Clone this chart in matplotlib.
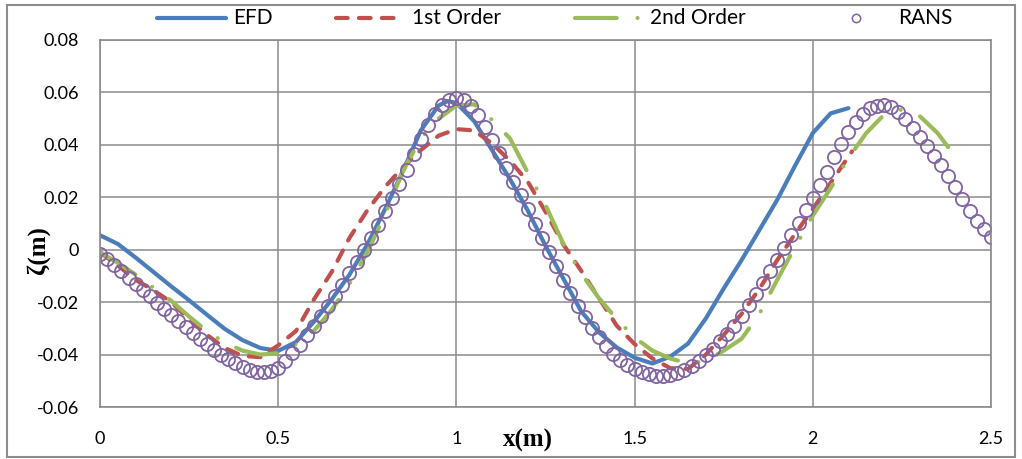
import matplotlib
matplotlib.use("Agg")
import matplotlib.pyplot as plt
from matplotlib.patches import Rectangle
from matplotlib.lines import Line2D

# EFD (measured)
efd_x = [0.00, 0.05, 0.10, 0.15, 0.20, 0.25, 0.30, 0.35, 0.40, 0.45, 0.50, 0.55, 0.60,
         0.65, 0.70, 0.75, 0.80, 0.85, 0.90, 0.95, 0.975, 1.00, 1.05, 1.10, 1.15, 1.20,
         1.25, 1.30, 1.35, 1.40, 1.45, 1.50, 1.55, 1.60, 1.65, 1.70, 1.75, 1.80, 1.85,
         1.90, 1.95, 2.00, 2.05, 2.10]
efd_y = [0.0055, 0.0022, -0.0030, -0.0085, -0.0140, -0.0193, -0.0248, -0.0302, -0.0345,
         -0.0375, -0.0386, -0.0352, -0.0275, -0.0190, -0.0095, 0.0020, 0.0155, 0.0300,
         0.0455, 0.0550, 0.0567, 0.0560, 0.0490, 0.0380, 0.0270, 0.0150, 0.0015, -0.0110,
         -0.0235, -0.0315, -0.0373, -0.0412, -0.0434, -0.0408, -0.0358, -0.0262, -0.0148,
         -0.0040, 0.0075, 0.0190, 0.0320, 0.0445, 0.0520, 0.0540]

# 1st order theory
first_x = [0.00, 0.05, 0.10, 0.15, 0.20, 0.25, 0.30, 0.35, 0.40, 0.45, 0.50, 0.55, 0.60,
           0.65, 0.70, 0.75, 0.80, 0.85, 0.90, 0.95, 1.00, 1.05, 1.10, 1.15, 1.20, 1.25,
           1.30, 1.35, 1.40, 1.45, 1.50, 1.55, 1.60, 1.65, 1.70, 1.75, 1.80, 1.85, 1.90,
           1.95, 2.00, 2.05, 2.11]
first_y = [-0.0010, -0.0060, -0.0115, -0.0155, -0.0200, -0.0265, -0.0325, -0.0375, -0.0405,
           -0.0410, -0.0365, -0.0310, -0.0190, -0.0085, 0.0045, 0.0150, 0.0240, 0.0315,
           0.0380, 0.0435, 0.0460, 0.0455, 0.0405, 0.0340, 0.0260, 0.0145, 0.0020, -0.0080,
           -0.0185, -0.0290, -0.0360, -0.0415, -0.0452, -0.0455, -0.0400, -0.0325, -0.0245,
           -0.0150, -0.0040, 0.0060, 0.0155, 0.0255, 0.0375]

# 2nd order theory
second_x = [0.00, 0.05, 0.10, 0.15, 0.20, 0.25, 0.30, 0.35, 0.40, 0.45, 0.50, 0.55, 0.60,
            0.65, 0.70, 0.75, 0.80, 0.85, 0.90, 0.95, 1.00, 1.05, 1.10, 1.15, 1.20, 1.25,
            1.30, 1.35, 1.40, 1.45, 1.50, 1.55, 1.60, 1.65, 1.70, 1.75, 1.80, 1.85, 1.90,
            1.95, 2.00, 2.05, 2.10, 2.15, 2.20, 2.25, 2.30, 2.35, 2.40]
second_y = [-0.0010, -0.0050, -0.0095, -0.0145, -0.0195, -0.0255, -0.0310, -0.0355, -0.0385,
            -0.0400, -0.0395, -0.0360, -0.0310, -0.0230, -0.0130, -0.0010, 0.0135, 0.0300,
            0.0425, 0.0500, 0.0550, 0.0555, 0.0495, 0.0425, 0.0295, 0.0170, 0.0023, -0.0090,
            -0.0185, -0.0265, -0.0335, -0.0385, -0.0415, -0.0433, -0.0425, -0.0385, -0.0340,
            -0.0245, -0.0115, 0.0010, 0.0130, 0.0235, 0.0350, 0.0445, 0.0515, 0.0535, 0.0510,
            0.0445, 0.0355]

# RANS
rans_x = [0.00, 0.02, 0.04, 0.06, 0.08, 0.10, 0.12, 0.14, 0.16, 0.18, 0.20, 0.22, 0.24,
          0.26, 0.28, 0.30, 0.32, 0.34, 0.36, 0.38, 0.40, 0.42, 0.44, 0.46, 0.48, 0.50,
          0.52, 0.54, 0.56, 0.58, 0.60, 0.62, 0.64, 0.66, 0.68, 0.70, 0.72, 0.74, 0.76,
          0.78, 0.80, 0.82, 0.84, 0.86, 0.88, 0.90, 0.92, 0.94, 0.96, 0.98, 1.00, 1.02,
          1.04, 1.06, 1.08, 1.10, 1.12, 1.14, 1.16, 1.18, 1.20, 1.22, 1.24, 1.26, 1.28,
          1.30, 1.32, 1.34, 1.36, 1.38, 1.40, 1.42, 1.44, 1.46, 1.48, 1.50, 1.52, 1.54,
          1.56, 1.58, 1.60, 1.62, 1.64, 1.66, 1.68, 1.70, 1.72, 1.74, 1.76, 1.78, 1.80,
          1.82, 1.84, 1.86, 1.88, 1.90, 1.92, 1.94, 1.96, 1.98, 2.00, 2.02, 2.04, 2.06,
          2.08, 2.10, 2.12, 2.14, 2.16, 2.18, 2.20, 2.22, 2.24, 2.26, 2.28, 2.30, 2.32,
          2.34, 2.36, 2.38, 2.40, 2.42, 2.44, 2.46, 2.48, 2.50]
rans_y = [-0.0015, -0.0037, -0.0060, -0.0083, -0.0106, -0.0130, -0.0154, -0.0178, -0.0202,
          -0.0226, -0.0250, -0.0273, -0.0296, -0.0318, -0.0340, -0.0361, -0.0381, -0.0400,
          -0.0418, -0.0434, -0.0449, -0.0460, -0.0467, -0.0468, -0.0462, -0.0450, -0.0425,
          -0.0395, -0.0362, -0.0327, -0.0290, -0.0253, -0.0215, -0.0175, -0.0133, -0.0090,
          -0.0046, -0.0001, 0.0046, 0.0095, 0.0146, 0.0198, 0.0250, 0.0305, 0.0365, 0.0422,
          0.0474, 0.0518, 0.0552, 0.0572, 0.0578, 0.0572, 0.0550, 0.0515, 0.0470, 0.0420,
          0.0368, 0.0313, 0.0260, 0.0207, 0.0154, 0.0100, 0.0046, -0.0008, -0.0062, -0.0115,
          -0.0166, -0.0213, -0.0257, -0.0297, -0.0334, -0.0367, -0.0396, -0.0421, -0.0441,
          -0.0456, -0.0467, -0.0475, -0.0480, -0.0481, -0.0478, -0.0470, -0.0458, -0.0442,
          -0.0424, -0.0402, -0.0377, -0.0350, -0.0320, -0.0290, -0.0252, -0.0212, -0.0170,
          -0.0127, -0.0083, -0.0038, 0.0008, 0.0055, 0.0102, 0.0150, 0.0198, 0.0245, 0.0298,
          0.0352, 0.0403, 0.0448, 0.0487, 0.0518, 0.0539, 0.0550, 0.0552, 0.0543, 0.0525,
          0.0498, 0.0465, 0.0430, 0.0394, 0.0358, 0.0322, 0.0282, 0.0238, 0.0192, 0.0148,
          0.0110, 0.0078, 0.0050]

x_ticks = [0, 0.5, 1, 1.5, 2, 2.5]
x_tick_labels = ["0", "0.5", "1", "1.5", "2", "2.5"]
y_ticks = [-0.06, -0.04, -0.02, 0, 0.02, 0.04, 0.06, 0.08]
y_tick_labels = ["-0.06", "-0.04", "-0.02", "0", "0.02", "0.04", "0.06", "0.08"]

plt.rcParams['font.family'] = ['Lato', 'DejaVu Sans']

W, H = 1022, 459
fig = plt.figure(figsize=(10.22, 4.59), dpi=100)
ax = fig.add_axes([100/W, 1 - 407/H, 891/W, 367/H])

efd_style = dict(color='#4A7EBB', lw=3, solid_capstyle='round')
first_style = dict(color='#C0504D', lw=3, linestyle=(0, (2.8, 2.7)), dash_capstyle='round')
second_style = dict(color='#9BBB59', lw=3, linestyle=(0, (10, 5, 0.01, 5)), dash_capstyle='round')
rans_style = dict(linestyle='none', marker='o', mfc='none', mec='#8064A2')

ax.plot(efd_x, efd_y, **efd_style)
ax.plot(first_x, first_y, **first_style)
ax.plot(second_x, second_y, **second_style)
ax.plot(rans_x, rans_y, markersize=9.5, mew=1.3, **rans_style)

ax.set_xlim(0, 2.5)
ax.set_ylim(-0.06, 0.08)
ax.set_xticks(x_ticks)
ax.set_xticklabels(x_tick_labels)
ax.set_yticks(y_ticks)
ax.set_yticklabels(y_tick_labels)
ax.tick_params(axis='both', length=0, labelsize=13)
ax.tick_params(axis='x', pad=17)
ax.tick_params(axis='y', pad=15)
ax.grid(True, color='#8C8C8C', lw=1.1)
ax.set_axisbelow(True)
for s in ax.spines.values():
    s.set_color('#8C8C8C')
    s.set_linewidth(1.2)

fig.text(528/W, 1 - 440/H, "x(m)", family='Liberation Serif', weight='bold',
         fontsize=18, ha='center', va='center')
fig.text(38/W, 1 - 250/H, "ζ(m)", family='Liberation Serif', weight='bold',
         fontsize=18, ha='center', va='center', rotation=90)

# legend drawn by hand, laid out like the Excel one
ly = 1 - 18/H
fig.add_artist(Line2D([157/W, 226/W], [ly, ly], **efd_style))
fig.add_artist(Line2D([336/W, 396/W], [ly, ly], **first_style))
fig.add_artist(Line2D([575/W, 640/W], [ly, ly], **second_style))
fig.add_artist(Line2D([856/W], [ly], markersize=6, mew=1.1, **rans_style))
for tx, name in [(233, "EFD"), (412, "1st Order"), (650, "2nd Order"), (898, "RANS")]:
    fig.text(tx/W, ly, name, fontsize=15, ha='left', va='center')

fig.patches.append(Rectangle((7/W, 2/H), 1008/W, 452/H, transform=fig.transFigure,
                             fill=False, ec='#8C8C8C', lw=1.5))

fig.savefig("out.png", dpi=100)
